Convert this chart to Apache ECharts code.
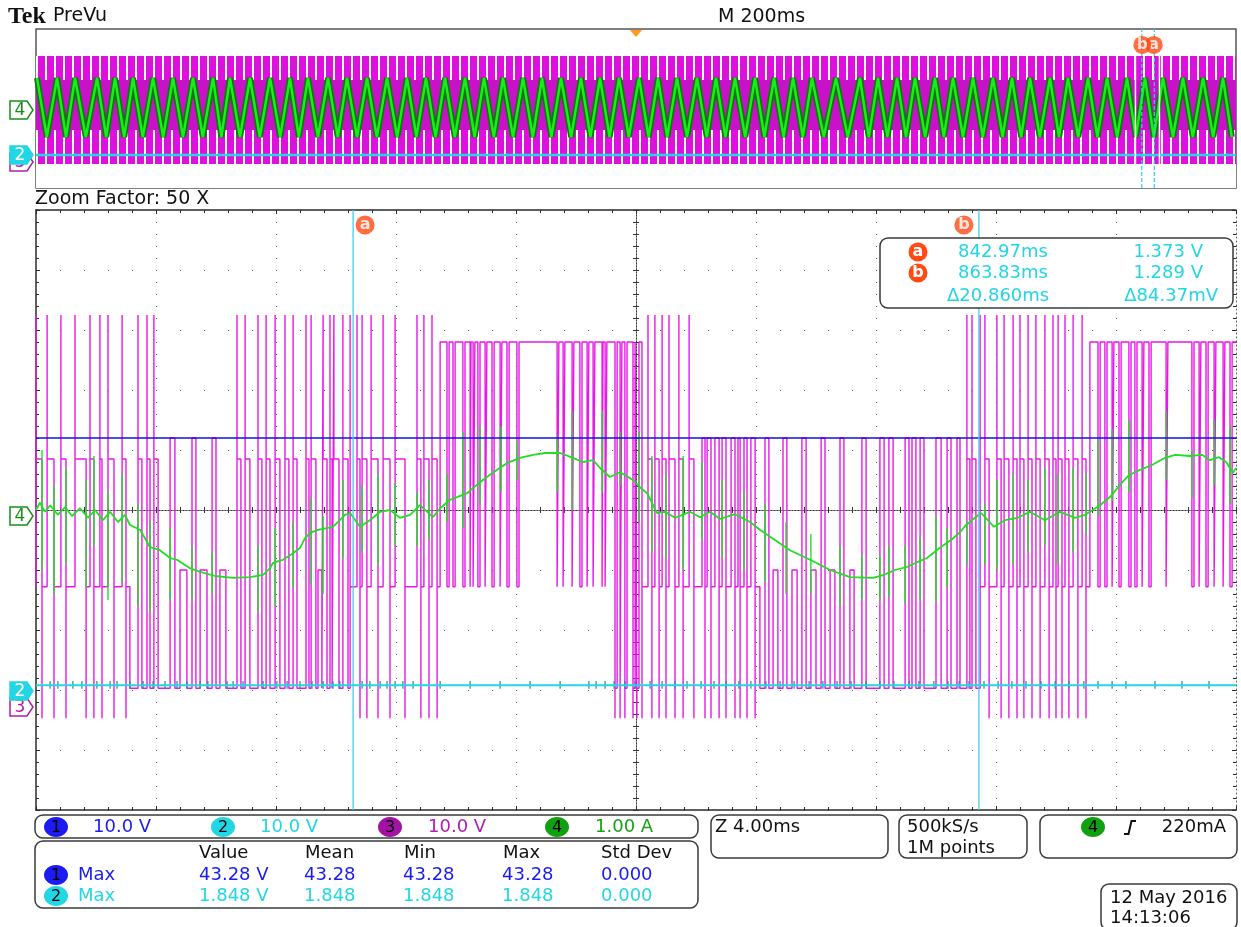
<!DOCTYPE html>
<html>
<head>
<meta charset="utf-8">
<script src="https://cdn.jsdelivr.net/npm/echarts/dist/echarts.min.js"></script>
<style>
html,body{margin:0;padding:0;background:#fff;}
#scope{width:1241px;height:927px;}
</style>
</head>
<body>
<div id="scope"></div>
<script>
// ---- Acquisition / cursor settings ----
const zoomCenterMs = 852.40;          // centre of the 40 ms zoom window
const cursorAms = 842.97;
const cursorBms = 863.83;
const zoomStartMs = 832.40, zoomEndMs = 872.40;

// ---- Static levels (divisions, 10 divisions tall) ----
const ch1Level = 1.2;     // 43.28 V DC bus
const ch2Level = -2.92;   // 1.848 V

// ---- Ch4 current, zoom window (ms from zoom centre, divisions) ----
const ch4Time = [-20.0,-19.87,-19.7,-19.53,-19.27,-19.03,-18.8,-18.53,-18.27,-18.03,-17.77,-17.53,-17.27,-17.03,-16.87,-16.53,-16.2,-15.87,-15.53,-15.3,-14.87,-14.53,-14.03,-13.43,-12.87,-12.43,-12.2,-12.1,-11.77,-11.43,-11.2,-11.03,-10.87,-10.6,-10.1,-9.7,-9.53,-9.2,-8.87,-8.53,-8.2,-7.87,-7.53,-7.2,-6.77,-6.53,-6.2,-5.63,-5.3,-4.97,-4.63,-4.3,-3.87,-3.43,-3.03,-2.53,-2.1,-1.77,-1.43,-1.2,-0.87,-0.53,-0.1,0.13,0.37,0.7,0.97,1.3,1.8,2.13,2.47,2.8,3.3,3.8,4.13,4.63,5.13,5.47,5.97,6.47,7.13,7.9,8.27,8.63,9.03,9.37,9.7,10.13,10.5,10.8,11.0,11.3,11.5,11.73,11.93,12.3,12.73,13.13,13.63,14.13,14.63,14.97,15.47,15.87,16.13,16.43,16.8,17.2,17.63,17.97,18.47,18.87,19.13,19.43,19.67,19.9,20.0];
const ch4Value = [0.0,0.12,-0.03,0.08,-0.08,0.05,-0.1,0.03,-0.13,0.0,-0.17,-0.03,-0.2,-0.08,-0.25,-0.33,-0.62,-0.67,-0.8,-0.83,-0.97,-1.03,-1.1,-1.13,-1.12,-1.08,-0.97,-0.88,-0.83,-0.72,-0.63,-0.47,-0.38,-0.33,-0.28,-0.08,-0.05,-0.28,-0.17,-0.03,0.0,-0.13,-0.08,0.08,-0.12,0.03,0.17,0.28,0.42,0.55,0.67,0.78,0.87,0.92,0.95,0.95,0.87,0.8,0.83,0.7,0.55,0.63,0.5,0.38,0.28,-0.05,-0.03,-0.13,-0.03,-0.12,-0.03,-0.15,-0.07,-0.2,-0.33,-0.5,-0.67,-0.75,-0.87,-1.0,-1.12,-1.13,-1.08,-1.0,-0.95,-0.87,-0.8,-0.63,-0.5,-0.37,-0.25,-0.13,-0.05,-0.17,-0.28,-0.17,-0.13,-0.03,-0.17,-0.03,-0.13,-0.08,0.08,0.25,0.42,0.58,0.67,0.75,0.87,0.92,0.9,0.92,0.83,0.88,0.8,0.62,0.7];
// switching spikes picked up on the current probe: [ms, top, bottom]
const ch4Spikes = [[-19.8,1.0,-1.0],[-19.4,0.4,-1.4],[-19.0,0.7,-0.9],[-18.33,0.5,-1.3],[-18.07,0.9,-0.6],[-17.6,0.3,-1.5],[-17.13,0.6,-1.2],[-16.6,0.1,-1.6],[-16.2,-0.2,-1.7],[-15.53,-0.3,-1.5],[-14.8,-0.6,-1.5],[-14.13,-0.7,-1.4],[-12.6,-0.6,-1.7],[-12.03,-0.3,-1.6],[-11.43,-0.2,-1.3],[-10.83,0.2,-1.25],[-10.43,-0.1,-1.4],[-9.77,0.5,-0.8],[-9.13,0.4,-0.7],[-8.6,0.6,-0.9],[-8.03,0.45,-0.6],[-7.3,0.3,-0.6],[-6.9,0.5,-0.5],[-6.3,0.6,-0.2],[-5.77,1.3,-0.3],[-5.2,1.4,0.1],[-4.5,1.4,0.3],[-3.97,1.15,0.5],[-2.63,1.2,0.3],[-2.13,1.65,0.0],[-1.13,1.65,0.3],[-0.53,1.3,0.4],[0.1,1.3,-0.2],[0.53,0.9,-0.7],[1.0,0.6,-0.8],[1.57,0.9,-1.0],[2.2,0.8,-0.5],[2.87,0.5,-0.8],[3.6,0.3,-1.0],[4.3,0.1,-1.2],[5.0,-0.2,-1.4],[5.83,-0.4,-1.4],[6.8,-0.6,-1.6],[7.53,-0.75,-1.5],[8.13,-0.75,-1.5],[8.43,-0.6,-1.45],[8.97,-0.6,-1.55],[9.47,-0.45,-1.5],[10.0,-0.1,-1.53],[10.37,-0.3,-1.3],[11.03,-0.2,-0.9],[11.63,0.1,-0.9],[12.03,0.5,-1.0],[12.57,0.6,-0.9],[13.07,0.5,-0.7],[13.63,0.7,-0.6],[14.07,0.6,-0.9],[14.57,0.7,-0.7],[15.0,0.6,-0.4],[15.4,1.2,-0.1],[15.87,1.35,0.15],[16.43,1.5,0.3],[17.67,1.65,0.5],[18.53,1.0,0.2],[19.27,1.5,0.4],[19.8,1.4,0.1]];
// small coupling ticks on the Ch2 trace (ms)
const ch2TickMs = [-19.53,-19.27,-18.77,-18.47,-17.97,-17.53,-17.3,-16.87,-16.43,-16.1,-15.7,-15.3,-14.97,-14.53,-14.27,-13.63,-13.43,-13.1,-12.43,-11.97,-11.63,-11.2,-10.8,-10.43,-10.1,-9.87,-9.13,-8.87,-8.53,-8.3,-8.03,-7.77,-7.43,-6.53,-5.53,-4.53,-3.53,-2.53,-1.57,-1.33,-1.03,-0.73,-0.37,-0.03,0.47,0.87,1.3,1.7,2.17,2.6,3.0,3.43,3.83,4.33,4.8,5.27,5.77,6.23,6.7,7.17,7.67,8.13,8.6,9.1,9.43,9.93,10.4,10.77,11.1,11.6,12.07,12.53,13.0,13.5,13.97,14.43,14.93,15.4,15.87,16.33,17.3,18.2,19.1];

// ---- Ch3 switched voltage, zoom window ----
const ch3Levels = {top: 2.8, high: 1.2, highStep: 0.85, mid: -1.0, midLow: -1.28, low: -2.97, spikeHi: 3.25, spikeLo: -3.47};
const L3 = ch3Levels;
// Each region: time span, resting level, pulse level, edge overshoot limits,
// pulses [on, off] or [on, off, level] for an intermediate step
const ch3Regions = [
  {from:-20.0, to:-16.87, base:L3.midLow, pulse:L3.highStep, over:L3.spikeHi, under:L3.spikeLo,
   pulses:[[-20.0,-19.8],[-19.63,-19.4],[-19.17,-19.0],[-18.7,-18.33],[-18.2,-18.07],[-17.87,-17.8],[-17.6,-17.4],[-17.13,-17.0]]},
  {from:-16.87, to:-15.7, base:L3.low, pulse:L3.highStep, over:L3.spikeHi, under:null,
   pulses:[[-16.6,-16.47],[-16.3,-16.2],[-16.07,-15.93]]},
  {from:-15.7, to:-13.53, base:L3.low, pulse:L3.high, over:null, under:null,
   pulses:[[-15.53,-15.37],[-15.2,-14.97,L3.mid],[-14.8,-14.67],[-14.53,-14.3,L3.mid],[-14.13,-14.0],[-13.87,-13.67,L3.mid]]},
  {from:-13.53, to:-9.53, base:L3.low, pulse:L3.highStep, over:L3.spikeHi, under:null,
   pulses:[[-13.3,-13.17],[-13.03,-12.87],[-12.6,-12.47],[-12.33,-12.2],[-12.03,-11.87],[-11.7,-11.57],[-11.43,-11.3],[-11.0,-10.9],[-10.83,-10.67],[-10.6,-10.47,L3.mid],[-10.43,-10.3],[-10.2,-10.13],[-10.07,-9.9],[-9.77,-9.6]]},
  {from:-9.53, to:-6.53, base:L3.midLow, pulse:L3.highStep, over:L3.spikeHi, under:L3.spikeLo,
   pulses:[[-9.3,-9.2],[-9.13,-8.97],[-8.83,-8.6],[-8.43,-8.2],[-8.03,-7.7],[-7.3,-7.17],[-7.07,-6.9],[-6.8,-6.63]]},
  {from:-6.53, to:-0.8, base:L3.top, pulse:L3.midLow, over:null, under:null,
   pulses:[[-6.3,-6.23],[-6.1,-6.03],[-5.77,-5.7],[-5.53,-5.5],[-5.43,-5.37],[-5.27,-5.2],[-5.03,-4.97],[-4.8,-4.73],[-4.53,-4.47],[-4.3,-4.23],[-3.97,-3.9],[-2.63,-2.57],[-2.43,-2.37],[-2.13,-2.07],[-1.87,-1.8],[-1.63,-1.57],[-1.43,-1.37],[-1.13,-1.1],[-1.03,-0.97]]},
  {from:-0.8, to:0.2, base:L3.top, pulse:L3.low, over:null, under:L3.spikeLo,
   pulses:[[-0.7,-0.63],[-0.53,-0.47],[-0.37,-0.3],[-0.1,-0.03],[0.03,0.1]]},
  {from:0.2, to:2.13, base:L3.midLow, pulse:L3.highStep, over:L3.spikeHi, under:L3.spikeLo,
   pulses:[[0.4,0.53],[0.63,0.77],[0.87,1.0],[1.1,1.3],[1.43,1.57],[1.77,1.93]]},
  {from:2.13, to:4.13, base:L3.midLow, pulse:L3.high, over:null, under:L3.spikeLo,
   pulses:[[2.2,2.3],[2.37,2.5],[2.63,2.77],[2.87,3.0],[3.17,3.3],[3.4,3.47],[3.6,3.7],[3.83,3.97]]},
  {from:4.13, to:10.87, base:L3.low, pulse:L3.high, over:null, under:null,
   pulses:[[4.3,4.43],[4.57,4.73,L3.mid],[4.9,5.03],[5.2,5.37,L3.mid],[5.53,5.67],[5.83,6.0,L3.mid],[6.17,6.3],[6.47,6.63,L3.mid],[6.8,6.93],[7.13,7.27,L3.mid],[7.53,7.67],[8.13,8.27],[8.43,8.57],[8.97,9.1],[9.2,9.33],[9.47,9.6],[10.0,10.17],[10.37,10.5],[10.7,10.8]]},
  {from:10.87, to:11.47, base:L3.low, pulse:L3.highStep, over:L3.spikeHi, under:null,
   pulses:[[11.03,11.13],[11.2,11.33]]},
  {from:11.47, to:15.13, base:L3.midLow, pulse:L3.highStep, over:L3.spikeHi, under:L3.spikeLo,
   pulses:[[11.63,11.77],[12.03,12.17],[12.27,12.43],[12.57,12.7],[12.8,12.93],[13.07,13.2],[13.33,13.47],[13.63,13.77],[13.9,14.0],[14.07,14.2],[14.3,14.43],[14.57,14.73],[14.87,15.0]]},
  {from:15.13, to:20.0, base:L3.top, pulse:L3.midLow, over:null, under:null,
   pulses:[[15.4,15.47],[15.63,15.7],[15.87,15.93],[16.1,16.17],[16.43,16.5],[16.63,16.7],[16.87,16.93],[17.1,17.17],[17.67,17.73],[18.53,18.6],[18.77,18.83],[19.0,19.07],[19.27,19.33],[19.57,19.63],[19.8,19.87]]}
];

// ---- PreVu record (ms from trigger, 0..10 scale of the record window) ----
const prevuCurrentPeakMs = [-998.3,-965,-935,-898.3,-868.3,-838.3,-805,-771.7,-738.3,-705,-676.7,-643.3,-610,-576.7,-546.7,-513.3,-481.7,-448.3,-415,-381.7,-350,-318.3,-285,-253.3,-221.7,-188.3,-156.7,-125,-91.7,-60,-28.3,5,36.7,68.3,101.7,133.3,165,198.3,230,261.7,293.3,333.3,373.3,403.3,435,465,498.3,528.3,561.7,595,626.7,656.7,690,720,753.3,785,818.3,848.3,878.3,911.7,945,978.3];
const prevuCurrentTroughMs = [-982,-950,-917,-883,-853,-822,-788,-755,-722,-691,-660,-627,-593,-562,-530,-497,-465,-432,-398,-366,-334,-302,-269,-237,-205,-172,-141,-108,-76,-44,-12,21,52,85,118,149,182,214,246,278,313,353,388,419,450,482,513,545,578,611,642,673,705,737,769,802,833,863,895,928,962,993];
const prevuCurrentHigh = 6.92, prevuCurrentLow = 3.21;
const prevuCh3Band = {bottom: 1.51, lowerComb: 3.65, solid: 6.79, upperComb: 8.3};
const prevuCh2Level = 2.08;

// ---- Build the Ch3 trace from the region table ----
function ch3Trace() {
  const pts = [];
  let level = null;
  const edge = (t, from, to, r, overshoot) => {
    let peak = to;
    if (overshoot && to > from && r.over != null) peak = Math.max(r.over, to);
    if (overshoot && to < from && r.under != null) peak = Math.min(r.under, to);
    pts.push([t, from], [t, peak], [t, to]);
  };
  ch3Regions.forEach(r => {
    if (level === null) pts.push([r.from, r.base]);
    else if (level !== r.base) edge(r.from, level, r.base, r, true);
    level = r.base;
    r.pulses.forEach(p => {
      const lv = p.length > 2 ? p[2] : r.pulse;
      const os = p.length <= 2;
      edge(p[0], r.base, lv, r, os);
      edge(p[1], lv, r.base, r, os);
    });
    pts.push([r.to, r.base]);
  });
  return pts;
}

const ch4Trace = ch4Time.map((t, i) => [t, ch4Value[i]]);
const ch2Ticks = ch2TickMs.map(t => [t, ch2Level + 0.07, ch2Level - 0.06]);
const prevuCurrent = [];
prevuCurrentPeakMs.forEach((t, i) => {
  prevuCurrent.push([t, prevuCurrentHigh]);
  if (i < prevuCurrentTroughMs.length) prevuCurrent.push([prevuCurrentTroughMs[i], prevuCurrentLow]);
});

const FRAME = '#2a2a2a', DOT = '#5c5c5c';
const C_BLUE = '#1b1bf2', C_CYAN = '#22d6e4', C_MAG = '#e619e6', C_GREEN = '#22dd22', C_ORANGE = '#ff4a14';

function vSegments(xi, yi, data, color, width, dash, z) {
  return {
    type: 'custom', xAxisIndex: xi, yAxisIndex: yi, data, z, silent: true, clip: true,
    renderItem: (params, api) => {
      const p1 = api.coord([api.value(0), api.value(1)]);
      const p2 = api.coord([api.value(0), api.value(2)]);
      return {type: 'line', shape: {x1: p1[0], y1: p1[1], x2: p2[0], y2: p2[1]},
        style: {stroke: color, lineWidth: width, lineDash: dash || null}};
    }
  };
}
function edgeAxis(gi, kind, pos, split, lineType) {
  const base = {
    gridIndex: gi, type: 'value', position: pos,
    axisLine: {show: true, onZero: false, lineStyle: lineType
      ? {color: DOT, width: 1, type: lineType} : {color: FRAME, width: 1.5}},
    axisTick: {show: true, inside: true, length: 4, lineStyle: {color: FRAME}},
    minorTick: {show: true, splitNumber: 5, length: 3, lineStyle: {color: FRAME}},
    axisLabel: {show: false},
    splitLine: {show: !!split, lineStyle: {color: DOT, width: 1, type: split || 'solid'}}
  };
  if (kind === 'x') Object.assign(base, {min: -20, max: 20, interval: 4});
  else Object.assign(base, {min: -5, max: 5, interval: 1});
  return base;
}
function centreAxis(kind, inside) {
  const a = {
    gridIndex: 0, type: 'value',
    axisLine: {show: true, onZero: true, onZeroAxisIndex: 0, lineStyle: {color: '#333', width: 1, type: [1, 2]}},
    axisTick: {show: true, inside: inside, length: 3, lineStyle: {color: '#333'}},
    minorTick: {show: true, splitNumber: 5, length: 3, lineStyle: {color: '#333'}},
    axisLabel: {show: false}, splitLine: {show: false}
  };
  if (kind === 'x') Object.assign(a, {min: -20, max: 20, interval: 4});
  else Object.assign(a, {min: -5, max: 5, interval: 1});
  return a;
}

const txt = (x, y, text, fill, size, align, weight, family) => ({
  type: 'text', x, y, z: 100,
  style: {text, fill, font: (weight || 'normal') + ' ' + size + 'px ' + (family || '"DejaVu Sans"'),
    textAlign: align || 'left', textVerticalAlign: 'middle'}
});
const box = (x, y, w, h) => ({type: 'rect', z: 90, shape: {x, y, width: w, height: h, r: 8},
  style: {fill: '#fff', stroke: '#3a3a3a', lineWidth: 1.5}});
const badge = (cx, cy, fill, label, fg) => ([
  {type: 'ellipse', z: 100, shape: {cx, cy, rx: 12, ry: 10}, style: {fill}},
  txt(cx, cy + 1, label, fg || '#000', 16, 'center')
]);
const cursorDot = (cx, cy, label) => ([
  {type: 'circle', z: 100, shape: {cx, cy, r: 9.5}, style: {fill: C_ORANGE}},
  txt(cx, cy, label, '#fff', 16, 'center', 'bold')
]);
const marker = (x, y, label, stroke, fill, fg) => ([
  {type: 'polygon', z: 100, shape: {points: [[x, y - 9], [x + 17, y - 9], [x + 23, y], [x + 17, y + 9], [x, y + 9]]},
   style: {fill, stroke, lineWidth: 1.5}},
  txt(x + 10, y + 1, label, fg, 17, 'center')
]);

const graphics = [].concat(
  [txt(8, 17, 'Tek', '#111', 24, 'left', 'bold', '"Liberation Serif"'),
   txt(53, 16, 'PreVu', '#111', 19),
   txt(718, 17, 'M 200ms', '#111', 19),
   {type: 'polygon', z: 100, shape: {points: [[630, 30], [642, 30], [636, 37]]}, style: {fill: '#ff9a1a'}},
   txt(35, 199, 'Zoom Factor: 50 X', '#111', 19)],
  marker(10, 110, '4', '#178f17', '#fff', '#178f17'),
  marker(10, 162, '3', '#b01eb0', '#fff', '#b01eb0'),
  marker(10, 155, '2', C_CYAN, C_CYAN, '#fff'),
  marker(10, 516, '4', '#178f17', '#fff', '#178f17'),
  marker(10, 707, '3', '#b01eb0', '#fff', '#b01eb0'),
  marker(10, 691, '2', C_CYAN, C_CYAN, '#fff'),
  // cursor readout
  [box(880, 238, 353, 70)],
  cursorDot(918, 252, 'a'), cursorDot(918, 273, 'b'),
  [txt(958, 252, '842.97ms', C_CYAN, 18), txt(1203, 252, '1.373 V', C_CYAN, 18, 'right'),
   txt(958, 273, '863.83ms', C_CYAN, 18), txt(1203, 273, '1.289 V', C_CYAN, 18, 'right'),
   txt(947, 296, '\u039420.860ms', C_CYAN, 18), txt(1218, 296, '\u039484.37mV', C_CYAN, 18, 'right')],
  // channel scale bar
  [box(35, 815, 663, 23)],
  badge(56, 827, C_BLUE, '1'), [txt(93, 827, '10.0 V', C_BLUE, 18)],
  badge(223, 827, C_CYAN, '2'), [txt(260, 827, '10.0 V', C_CYAN, 18)],
  badge(390, 827, '#a412a4', '3'), [txt(428, 827, '10.0 V', '#b01eb0', 18)],
  badge(557, 827, '#10a010', '4'), [txt(595, 827, '1.00 A', '#18a018', 18)],
  // measurements
  [box(35, 841, 663, 67),
   txt(199, 853, 'Value', '#111', 18), txt(305, 853, 'Mean', '#111', 18), txt(404, 853, 'Min', '#111', 18),
   txt(503, 853, 'Max', '#111', 18), txt(601, 853, 'Std Dev', '#111', 18)],
  badge(56, 875, C_BLUE, '1'),
  [txt(78, 875, 'Max', C_BLUE, 18), txt(199, 875, '43.28 V', C_BLUE, 18), txt(304, 875, '43.28', C_BLUE, 18),
   txt(403, 875, '43.28', C_BLUE, 18), txt(502, 875, '43.28', C_BLUE, 18), txt(601, 875, '0.000', C_BLUE, 18)],
  badge(56, 896, C_CYAN, '2'),
  [txt(78, 896, 'Max', C_CYAN, 18), txt(199, 896, '1.848 V', C_CYAN, 18), txt(304, 896, '1.848', C_CYAN, 18),
   txt(403, 896, '1.848', C_CYAN, 18), txt(502, 896, '1.848', C_CYAN, 18), txt(601, 896, '0.000', C_CYAN, 18)],
  // timebase / acquisition / trigger / date
  [box(711, 815, 177, 43), txt(715, 827, 'Z 4.00ms', '#111', 18),
   box(899, 815, 128, 43), txt(907, 827, '500kS/s', '#111', 18), txt(907, 848, '1M points', '#111', 18),
   box(1040, 815, 197, 43)],
  badge(1093, 827, '#10a010', '4'),
  [{type: 'polyline', z: 100, shape: {points: [[1124, 834], [1128.5, 834], [1131.5, 821], [1136, 821]]},
    style: {stroke: '#111', lineWidth: 2, fill: null}},
   txt(1226, 827, '220mA', '#111', 18, 'right'),
   box(1101, 884, 136, 46), txt(1110, 898, '12 May 2016', '#111', 18), txt(1110, 918, '14:13:06', '#111', 18)]
);

const combDecal = {symbol: 'rect', symbolSize: 1, color: '#ffffff', dashArrayX: [1.6, 6.4], dashArrayY: [40, 0]};
const bandBar = (value, color, decal) => ({
  type: 'bar', xAxisIndex: 4, yAxisIndex: 4, barWidth: 1200, barGap: '-100%', silent: true, z: 1,
  data: [[0, value]], itemStyle: {color, decal: decal || null}
});

const option = {
  animation: false,
  backgroundColor: '#ffffff',
  grid: [
    {left: 36, top: 210, width: 1200, height: 600, show: false, outerBoundsMode: 'none', containLabel: false},
    {left: 36, top: 29, width: 1200, height: 159, show: true, borderColor: '#555', borderWidth: 1.5, backgroundColor: '#fff', outerBoundsMode: 'none', containLabel: false}
  ],
  xAxis: [
    edgeAxis(0, 'x', 'bottom', [1, 11]),
    edgeAxis(0, 'x', 'top', null),
    centreAxis('x', true),
    centreAxis('x', false),
    {gridIndex: 1, type: 'value', min: -1000, max: 1000, show: false}
  ],
  yAxis: [
    edgeAxis(0, 'y', 'left', [1, 23]),
    edgeAxis(0, 'y', 'right', null, [1, 3]),
    centreAxis('y', true),
    centreAxis('y', false),
    {gridIndex: 1, type: 'value', min: 0, max: 10, show: false}
  ],
  series: [
    // ---- PreVu strip: Ch3 envelope band (drawn back to front) ----
    bandBar(prevuCh3Band.upperComb, '#dd10dd', combDecal),
    bandBar(prevuCh3Band.solid, '#c812c8'),
    bandBar(prevuCh3Band.lowerComb, '#dd10dd', combDecal),
    bandBar(prevuCh3Band.bottom, '#ffffff'),
    {type: 'line', xAxisIndex: 4, yAxisIndex: 4, data: prevuCurrent, symbol: 'none', silent: true, z: 3,
     lineStyle: {color: '#0c7a0c', width: 6}},
    {type: 'line', xAxisIndex: 4, yAxisIndex: 4, data: prevuCurrent, symbol: 'none', silent: true, z: 4,
     lineStyle: {color: '#1aee1a', width: 2.5}},
    {type: 'line', xAxisIndex: 4, yAxisIndex: 4, data: [[-1000, prevuCh2Level], [1000, prevuCh2Level]], symbol: 'none', silent: true, z: 5,
     lineStyle: {color: C_CYAN, width: 2.5}},
    vSegments(4, 4, [[zoomStartMs, 1.3, 8.5], [zoomEndMs, 1.3, 8.5]], '#ffffff', 1.5, null, 6),
    vSegments(4, 4, [[cursorAms, 0, 10], [cursorBms, 0, 10]], '#33ccee', 1.2, [4, 2], 7),
    {type: 'scatter', xAxisIndex: 4, yAxisIndex: 4, data: [[cursorAms, 9.0]], symbol: 'circle', symbolSize: 18,
     symbolOffset: [12, 0], silent: true, z: 8, itemStyle: {color: C_ORANGE},
     label: {show: true, position: 'inside', formatter: 'a', color: '#fff', fontSize: 15, fontWeight: 'bold', fontFamily: 'DejaVu Sans'}},
    {type: 'scatter', xAxisIndex: 4, yAxisIndex: 4, data: [[cursorBms, 9.0]], symbol: 'circle', symbolSize: 18,
     symbolOffset: [-12, 0], silent: true, z: 9, itemStyle: {color: C_ORANGE},
     label: {show: true, position: 'inside', formatter: 'b', color: '#fff', fontSize: 15, fontWeight: 'bold', fontFamily: 'DejaVu Sans'}},

    // ---- Zoom window ----
    {type: 'line', xAxisIndex: 0, yAxisIndex: 0, data: ch3Trace(), symbol: 'none', silent: true, z: 2,
     lineStyle: {color: C_MAG, width: 1.4}},
    vSegments(0, 0, ch4Spikes, C_GREEN, 1.4, null, 3),
    {type: 'line', xAxisIndex: 0, yAxisIndex: 0, data: ch4Trace, symbol: 'none', silent: true, z: 3,
     lineStyle: {color: C_GREEN, width: 1.8}},
    {type: 'line', xAxisIndex: 0, yAxisIndex: 0, data: [[-20, ch2Level], [20, ch2Level]], symbol: 'none', silent: true, z: 4,
     lineStyle: {color: C_CYAN, width: 2}},
    vSegments(0, 0, ch2Ticks, '#1f8f96', 1.2, null, 4),
    {type: 'line', xAxisIndex: 0, yAxisIndex: 0, data: [[-20, ch1Level], [20, ch1Level]], symbol: 'none', silent: true, z: 5,
     lineStyle: {color: '#1010e0', width: 1.6}},
    vSegments(0, 0, [[cursorAms - zoomCenterMs, -5, 5], [cursorBms - zoomCenterMs, -5, 5]], '#44ccee', 1.3, null, 6),
    {type: 'scatter', xAxisIndex: 0, yAxisIndex: 0, data: [[cursorAms - zoomCenterMs, 4.75]], symbol: 'circle', symbolSize: 19,
     symbolOffset: [12, 0], silent: true, z: 8, itemStyle: {color: C_ORANGE},
     label: {show: true, position: 'inside', formatter: 'a', color: '#fff', fontSize: 16, fontWeight: 'bold', fontFamily: 'DejaVu Sans'}},
    {type: 'scatter', xAxisIndex: 0, yAxisIndex: 0, data: [[cursorBms - zoomCenterMs, 4.75]], symbol: 'circle', symbolSize: 19,
     symbolOffset: [-15, 0], silent: true, z: 8, itemStyle: {color: C_ORANGE},
     label: {show: true, position: 'inside', formatter: 'b', color: '#fff', fontSize: 16, fontWeight: 'bold', fontFamily: 'DejaVu Sans'}}
  ],
  graphic: graphics
};

const chart = echarts.init(document.getElementById('scope'), null, {renderer: 'canvas'});
chart.setOption(option);
</script>
</body>
</html>
